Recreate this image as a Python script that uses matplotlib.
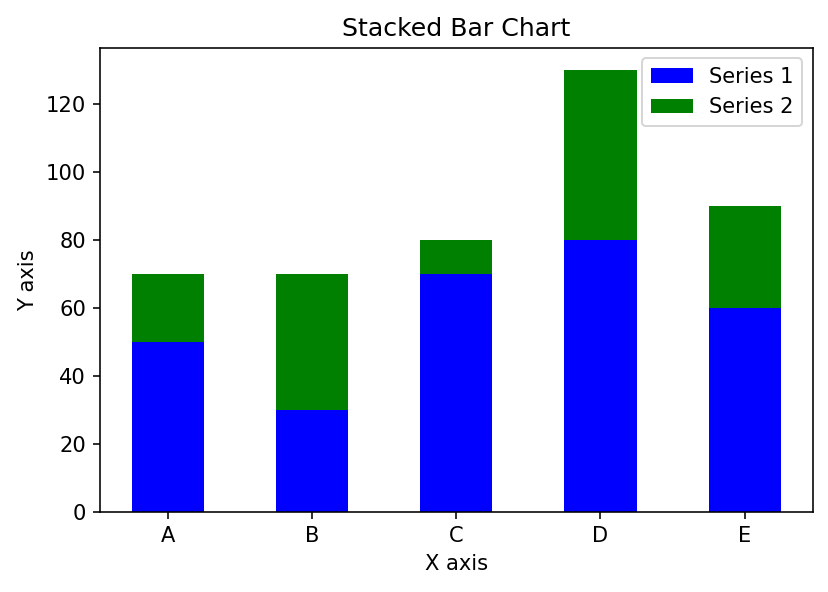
import numpy as np
import matplotlib.pyplot as plt

categories = ['A', 'B', 'C', 'D', 'E']
series1 = [50, 30, 70, 80, 60]
series2 = [20, 40, 10, 50, 30]

plt.rcParams['font.size'] = 10.5

fig = plt.figure(figsize=(828 / 144, 592 / 144), dpi=144)
ax = fig.add_axes([0.1208, 0.135, 0.861, 0.784])

x = np.arange(len(categories))
ax.bar(x, series1, width=0.5, color='blue', label='Series 1')
ax.bar(x, series2, width=0.5, bottom=series1, color='green', label='Series 2')

ax.set_xticks(x)
ax.set_xticklabels(categories)
ax.set_title('Stacked Bar Chart')
ax.set_xlabel('X axis')
ax.set_ylabel('Y axis')
ax.legend(loc='upper right')

fig.savefig('out.png', dpi=144)
